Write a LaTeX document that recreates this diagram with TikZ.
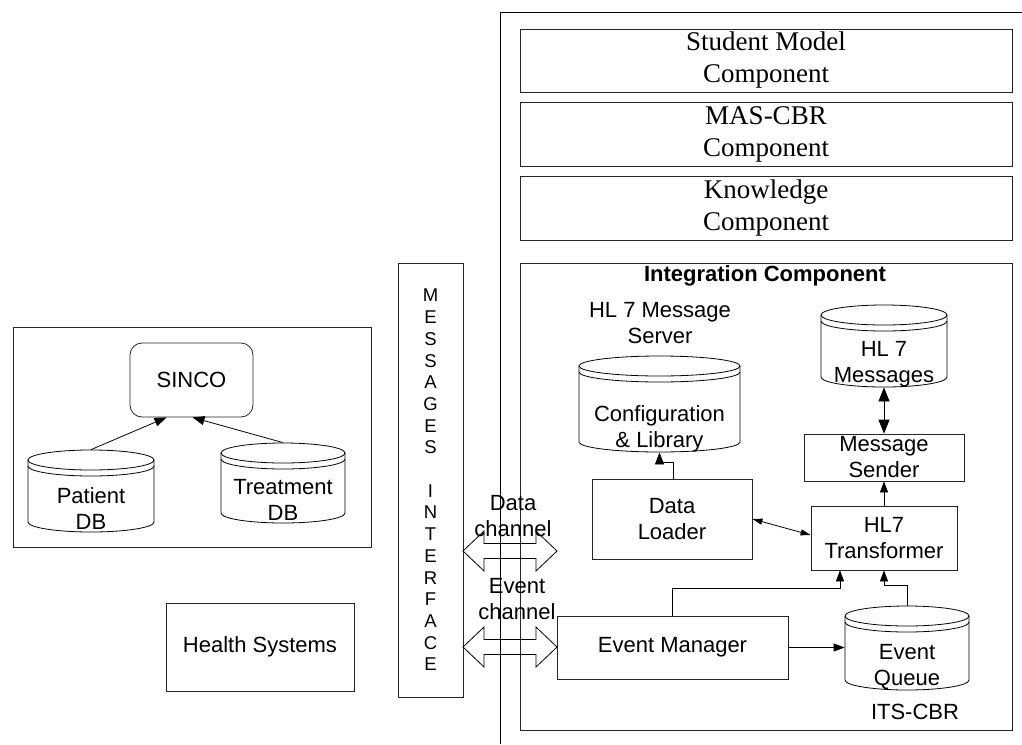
\documentclass[tikz,border=0pt]{standalone}
\usepackage{fontspec}
\setmainfont{Liberation Sans}
\newfontfamily\timesfont{Liberation Serif}
\usetikzlibrary{arrows.meta}

\tikzset{
  box/.style={draw=black!85, rectangle, inner sep=0pt, align=center},
  dbbox/.style={rectangle, inner sep=0pt},
  comp/.style={box, minimum width=492, minimum height=64, font=\timesfont\fontsize{27}{32}\selectfont},
  arr/.style={-{Triangle[length=11pt,width=8pt]}},
  bigarr/.style={-{Triangle[length=12pt,width=9pt]}},
  dblarr/.style={{Triangle[length=14pt,width=11pt]}-{Triangle[length=14pt,width=11pt]}},
  thinarr/.style={{Triangle[length=10pt,width=6pt]}-{Triangle[length=10pt,width=6pt]}},
}

% database drum: name, left, top, right, bottom, text
\newcommand{\database}[6]{%
  \node[dbbox, minimum width={#4-#2}, minimum height={#5-#3}] (#1) at ({(#2+#4)/2},{(#3+#5)/2}) {};
  \draw ({(#2+#4)/2},#3+10) ellipse [x radius={(#4-#2)/2}, y radius=10];
  \draw (#2,#3+16) arc [start angle=180, end angle=0, x radius={(#4-#2)/2}, y radius=10];
  \draw (#2,#3+10) -- (#2,#5-10) arc [start angle=180, end angle=0, x radius={(#4-#2)/2}, y radius=10] -- (#4,#3+10);
  \node[align=center] (#1txt) at ({(#2+#4)/2},#5-23) {#6};
}

\begin{document}
\begin{tikzpicture}[x=1pt, y=-1pt, line width=0.8pt, font=\fontsize{22}{26}\selectfont]
\useasboundingbox (0,0) rectangle (1022,744);

% ITS-CBR frame
\draw (1022,12) -- (500,12) -- (500,744);
\node (itscbr) at (915,712) {ITS-CBR};

\node[comp, minimum height=63] (student) at (766,60.5) {Student Model\\Component};
\node[comp] (mascbr) at (766,134) {MAS-CBR\\Component};
\node[comp] (knowledge) at (766,208) {Knowledge\\Component};

% integration component
\node[box, minimum width=492, minimum height=467] (integration) at (766,496.5) {};
\node[font=\bfseries\fontsize{22}{26}\selectfont] (intlabel) at (765,276) {Integration Component};
\node[align=center] (server) at (660,323) {HL 7 Message\\Server};

\database{config}{579}{356}{740}{452}{Configuration\\\& Library}
\database{hlmsg}{821}{305}{947}{387}{HL 7\\Messages}
\database{queue}{845}{606}{969}{690}{Event\\Queue}

\node[box, minimum width=160, minimum height=47] (sender) at (884,457.5) {Message\\Sender};
\node[box, minimum width=160, minimum height=80] (loader) at (672,519) {Data\\Loader};
\node[box, minimum width=146, minimum height=64] (transformer) at (884,538) {HL7\\Transformer};
\node[box, minimum width=231, minimum height=63] (manager) at (672.5,647.5) {Event Manager};

\draw[bigarr] ([xshift=1pt]loader.north) -- ++(0,-16) -| (config.south);
\draw[dblarr] (sender.north) -- (hlmsg.south);
\draw[arr] (transformer.north) -- (sender.south);
\draw[thinarr] (loader.east) -- ([yshift=3pt]transformer.west);
\draw[arr] (manager.north) -- ++(0,-27) -| ([xshift=-44pt]transformer.south);
\draw[arr] (queue.north) -- ++(0,-20) -| (transformer.south);
\draw[arr] (manager.east) -- (queue.west |- manager.east);

% messages interface and channels
\node[box, minimum width=65, minimum height=434, font=\fontsize{18.5}{21.7}\selectfont] (iface) at (430.5,480)
  {M\\E\\S\\S\\A\\G\\E\\S\\\mbox{}\\I\\N\\T\\E\\R\\F\\A\\C\\E};
\foreach \y in {551,647}
  \draw (463,\y) -- (484,\y-20) -- (484,\y-7.5) -- (536,\y-7.5) -- (536,\y-20) -- (557,\y)
    -- (536,\y+20) -- (536,\y+7.5) -- (484,\y+7.5) -- (484,\y+20) -- cycle;
\node[align=center] (datach) at (513,516) {Data\\channel};
\node[align=center] (eventch) at (517,599) {Event\\channel};

% health systems side
\node[box, minimum width=358, minimum height=220] (legacy) at (192,437) {};
\node[box, rounded corners=12pt, minimum width=123, minimum height=74] (sinco) at (191.5,380) {SINCO};
\database{patient}{28}{450}{154}{532}{Patient\\DB}
\database{treatment}{221}{443}{345}{523}{Treatment\\DB}
\draw[bigarr] (patient.north) -- ([xshift=-25pt]sinco.south);
\draw[bigarr] (treatment.north) -- ([xshift=1pt]sinco.south);

\node[box, minimum width=188, minimum height=88] (health) at (260,647) {Health Systems};

\end{tikzpicture}
\end{document}
